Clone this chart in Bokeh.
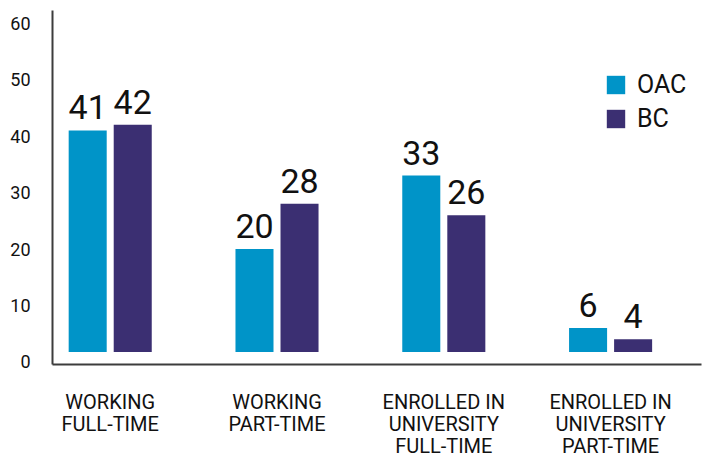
from bokeh.plotting import figure
from bokeh.layouts import column
from bokeh.models import (Range1d, FixedTicker, ColumnDataSource, LabelSet,
                          Legend, LegendItem)
from bokeh.core.properties import value
from bokeh.embed import file_html
from bokeh.resources import INLINE

# ---- data ----
categories = ["WORKING\nFULL-TIME", "WORKING\nPART-TIME",
              "ENROLLED IN\nUNIVERSITY\nFULL-TIME",
              "ENROLLED IN\nUNIVERSITY\nPART-TIME"]
series_names = ["OAC", "BC"]
oac = [41, 20, 33, 6]
bc = [42, 28, 26, 4]
y_ticks = [0, 10, 20, 30, 40, 50, 60]

# ---- style ----
OAC_COLOR = "#0094c8"
BC_COLOR = "#3b2f72"
FONT = "Roboto"
BASE = 1.77          # bars start slightly above the zero line
BAR_W = 0.228
OFF = 0.135
CAT_Y = 17           # px from top of the label strip

idx = list(range(len(categories)))
x_range = Range1d(-0.346, 3.545)

p = figure(width=707, height=372, output_backend="svg", toolbar_location=None,
           x_range=x_range, y_range=Range1d(-0.46, 62.25),
           min_border_left=52, min_border_right=6, min_border_top=10,
           min_border_bottom=8)
p.outline_line_color = None
p.grid.visible = False
p.background_fill_color = "white"
p.border_fill_color = "white"

src = ColumnDataSource(dict(
    x_oac=[i - OFF for i in idx], x_bc=[i + OFF for i in idx],
    oac=oac, bc=bc, base=[BASE] * len(idx),
    oac_lbl=[str(v) for v in oac], bc_lbl=[str(v) for v in bc]))

r1 = p.vbar(x="x_oac", top="oac", bottom="base", width=BAR_W, source=src,
            fill_color=OAC_COLOR, line_color=None)
r2 = p.vbar(x="x_bc", top="bc", bottom="base", width=BAR_W, source=src,
            fill_color=BC_COLOR, line_color=None)

for xcol, ycol, tcol in (("x_oac", "oac", "oac_lbl"), ("x_bc", "bc", "bc_lbl")):
    p.add_layout(LabelSet(x=xcol, y=ycol, text=tcol, source=src, y_offset=11,
                          text_align="center", text_baseline="alphabetic",
                          text_font=value(FONT), text_font_size="34px",
                          text_color="#111111"))

# axes
xa = p.xaxis[0]
xa.ticker = FixedTicker(ticks=[])
xa.major_tick_line_color = None
xa.minor_tick_line_color = None
xa.axis_line_color = "#3c3c3c"
xa.axis_line_width = 2

ya = p.yaxis[0]
ya.ticker = FixedTicker(ticks=y_ticks)
ya.major_label_text_font = FONT
ya.major_label_text_font_size = "18px"
ya.major_label_text_color = "#111111"
ya.major_label_standoff = 16
ya.major_tick_line_color = None
ya.minor_tick_line_color = None
ya.axis_line_color = "#3c3c3c"
ya.axis_line_width = 2

legend = Legend(items=[LegendItem(label=series_names[0], renderers=[r1]),
                       LegendItem(label=series_names[1], renderers=[r2])],
                location=(552, 231), orientation="vertical",
                glyph_width=23, glyph_height=23, label_standoff=10,
                label_text_font=FONT, label_text_font_size="25px",
                label_text_color="#111111", padding=0, spacing=5,
                border_line_color=None, background_fill_alpha=0)
p.add_layout(legend)

# category label strip sharing the x range
p2 = figure(width=707, height=86, output_backend="svg", toolbar_location=None,
            x_range=x_range, y_range=Range1d(86, 0),
            x_axis_location=None, y_axis_location=None,
            min_border_left=52, min_border_right=6, min_border_top=0,
            min_border_bottom=0)
p2.outline_line_color = None
p2.grid.visible = False
cat_src = ColumnDataSource(dict(x=idx, y=[CAT_Y] * len(idx), text=categories))
p2.text(x="x", y="y", text="text", source=cat_src, text_align="center",
        text_baseline="top", text_font=value(FONT), text_font_size="20px",
        text_line_height=0.93, text_color="#111111")

layout = column(p, p2, spacing=0)
open("out.html", "w").write(file_html(layout, INLINE))
